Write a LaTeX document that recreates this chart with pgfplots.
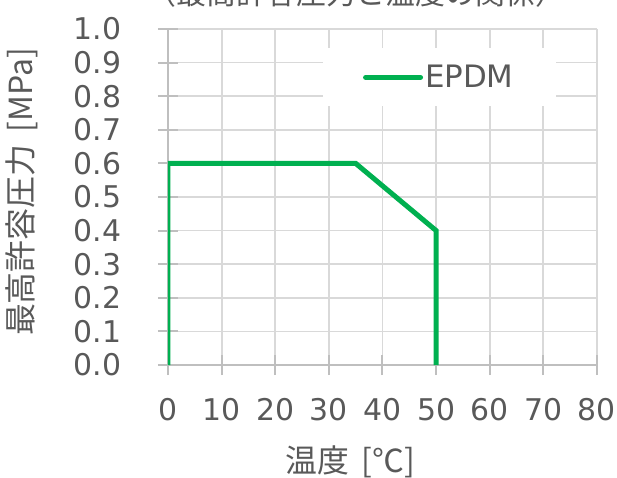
\documentclass[border=0pt]{standalone}
\usepackage{fontspec}
\setmainfont{DejaVu Sans}
\newfontfamily\cjk{Noto Sans CJK JP}
\usepackage{pgfplots}
\pgfplotsset{compat=1.18}
\definecolor{txt}{HTML}{595959}
\definecolor{gridc}{HTML}{D9D9D9}
\definecolor{axc}{HTML}{BFBFBF}
\definecolor{epdm}{HTML}{00B050}
\begin{document}
\begin{tikzpicture}
\begin{axis}[
  at={(0,0)}, anchor=south west,
  scale only axis, width=429bp, height=336bp,
  xmin=0, xmax=80, ymin=0, ymax=1,
  xtick={0,10,20,30,40,50,60,70,80},
  ytick={0,0.1,0.2,0.3,0.4,0.5,0.6,0.7,0.8,0.9,1.0},
  yticklabel style={xshift=-33bp, /pgf/number format/.cd,fixed,fixed zerofill,precision=1},
  xticklabel style={yshift=-20bp},
  /pgf/number format/assume math mode=true,
  ticklabel style={font=\fontsize{30}{36}\selectfont, text=txt},
  axis x line=bottom, axis y line=left,
  axis line style={axc, line width=2bp, -},
  major tick length=20bp, tick align=center,
  tick style={axc, line width=2bp},
  grid=major, major grid style={gridc, line width=1.8bp},
  legend style={at={(0.361,0.943)}, anchor=north west, draw=none, fill=white,
    font=\fontsize{31}{36}\selectfont, text=txt, inner xsep=40bp, inner ysep=15bp},
  legend image code/.code={\draw[epdm, line width=5bp, line cap=round] (0bp,0bp) -- (55bp,0bp);},
]
\addplot[epdm, line width=5bp, line join=miter] coordinates {(0,0) (0,0.6) (35,0.6) (50,0.4) (50,0)};
\addlegendentry{EPDM}
\end{axis}
\node[anchor=base, font=\cjk\fontsize{30}{36}\selectfont, text=txt] at (188bp,360bp) {（最高許容圧力と温度の関係）};
\node[rotate=90, font=\cjk\fontsize{32}{36}\selectfont, text=txt] at (-146bp,173bp) {最高許容圧力 \,[MPa]};
\node[font=\cjk\fontsize{32}{36}\selectfont, text=txt] at (182bp,-97bp) {温度 \,[℃]};
\pgfresetboundingbox
\useasboundingbox (-168bp,-113bp) rectangle (449bp,365bp);
\end{tikzpicture}
\end{document}
